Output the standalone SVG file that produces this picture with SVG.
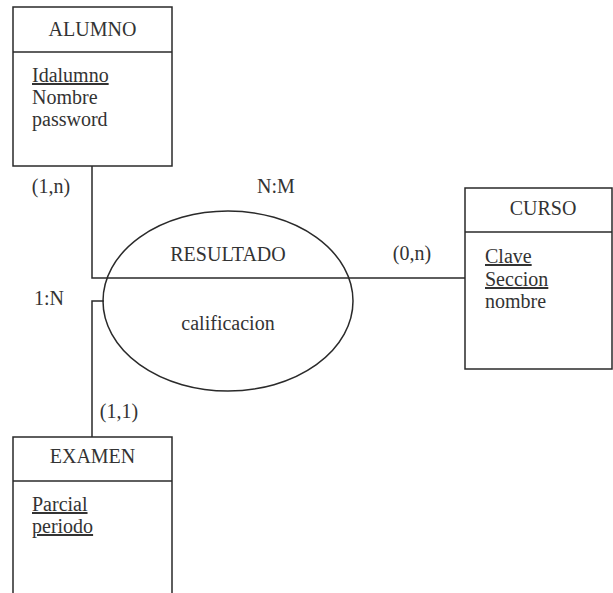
<svg xmlns="http://www.w3.org/2000/svg" width="613" height="593" viewBox="0 0 613 593">
  <style>
    .box { fill: #ffffff; stroke: #2a2a2a; stroke-width: 1.5; }
    .rule { stroke: #2a2a2a; stroke-width: 1.5; fill: none; }
    .link { stroke: #2a2a2a; stroke-width: 1.5; fill: none; }
    text { font-family: "Liberation Serif", "Times New Roman", serif; font-size: 20px; fill: #333333; }
    .title { text-anchor: middle; }
    .key { text-decoration: underline; }
    .mid { text-anchor: middle; }
  </style>
  <rect width="613" height="593" fill="#ffffff"/>

  <!-- connectors -->
  <g id="connectors">
    <polyline class="link" points="92,166 92,278 465,278"/>
    <polyline class="link" points="92,437 92,301 104,301"/>
    <text class="mid" x="51" y="193">(1,n)</text>
    <text class="mid" x="276" y="193">N:M</text>
    <text class="mid" x="49" y="305">1:N</text>
    <text class="mid" x="412" y="260">(0,n)</text>
    <text class="mid" x="119" y="418">(1,1)</text>
  </g>

  <!-- relationship -->
  <g id="resultado">
    <ellipse cx="228" cy="301" rx="125" ry="90" fill="none" stroke="#2a2a2a" stroke-width="1.5"/>
    <text class="mid" x="228" y="261">RESULTADO</text>
    <text class="mid" x="228" y="330">calificacion</text>
  </g>

  <!-- entities -->
  <g id="alumno">
    <rect class="box" x="13" y="7" width="159" height="159"/>
    <line class="rule" x1="13" y1="52" x2="172" y2="52"/>
    <text class="title" x="92.5" y="36">ALUMNO</text>
    <text class="key" x="32" y="82">Idalumno</text>
    <text x="32" y="104">Nombre</text>
    <text x="32" y="126">password</text>
  </g>

  <g id="curso">
    <rect class="box" x="465" y="188" width="147" height="181"/>
    <line class="rule" x1="465" y1="232" x2="612" y2="232"/>
    <text class="title" x="543" y="215">CURSO</text>
    <text class="key" x="485" y="263">Clave</text>
    <text class="key" x="485" y="286">Seccion</text>
    <text x="485" y="308">nombre</text>
  </g>

  <g id="examen">
    <polyline class="rule" points="13,600 13,437 172,437 172,600"/>
    <line class="rule" x1="13" y1="481" x2="172" y2="481"/>
    <text class="title" x="92.5" y="463">EXAMEN</text>
    <text class="key" x="32" y="511">Parcial</text>
    <text class="key" x="32" y="533">periodo</text>
  </g>
</svg>
